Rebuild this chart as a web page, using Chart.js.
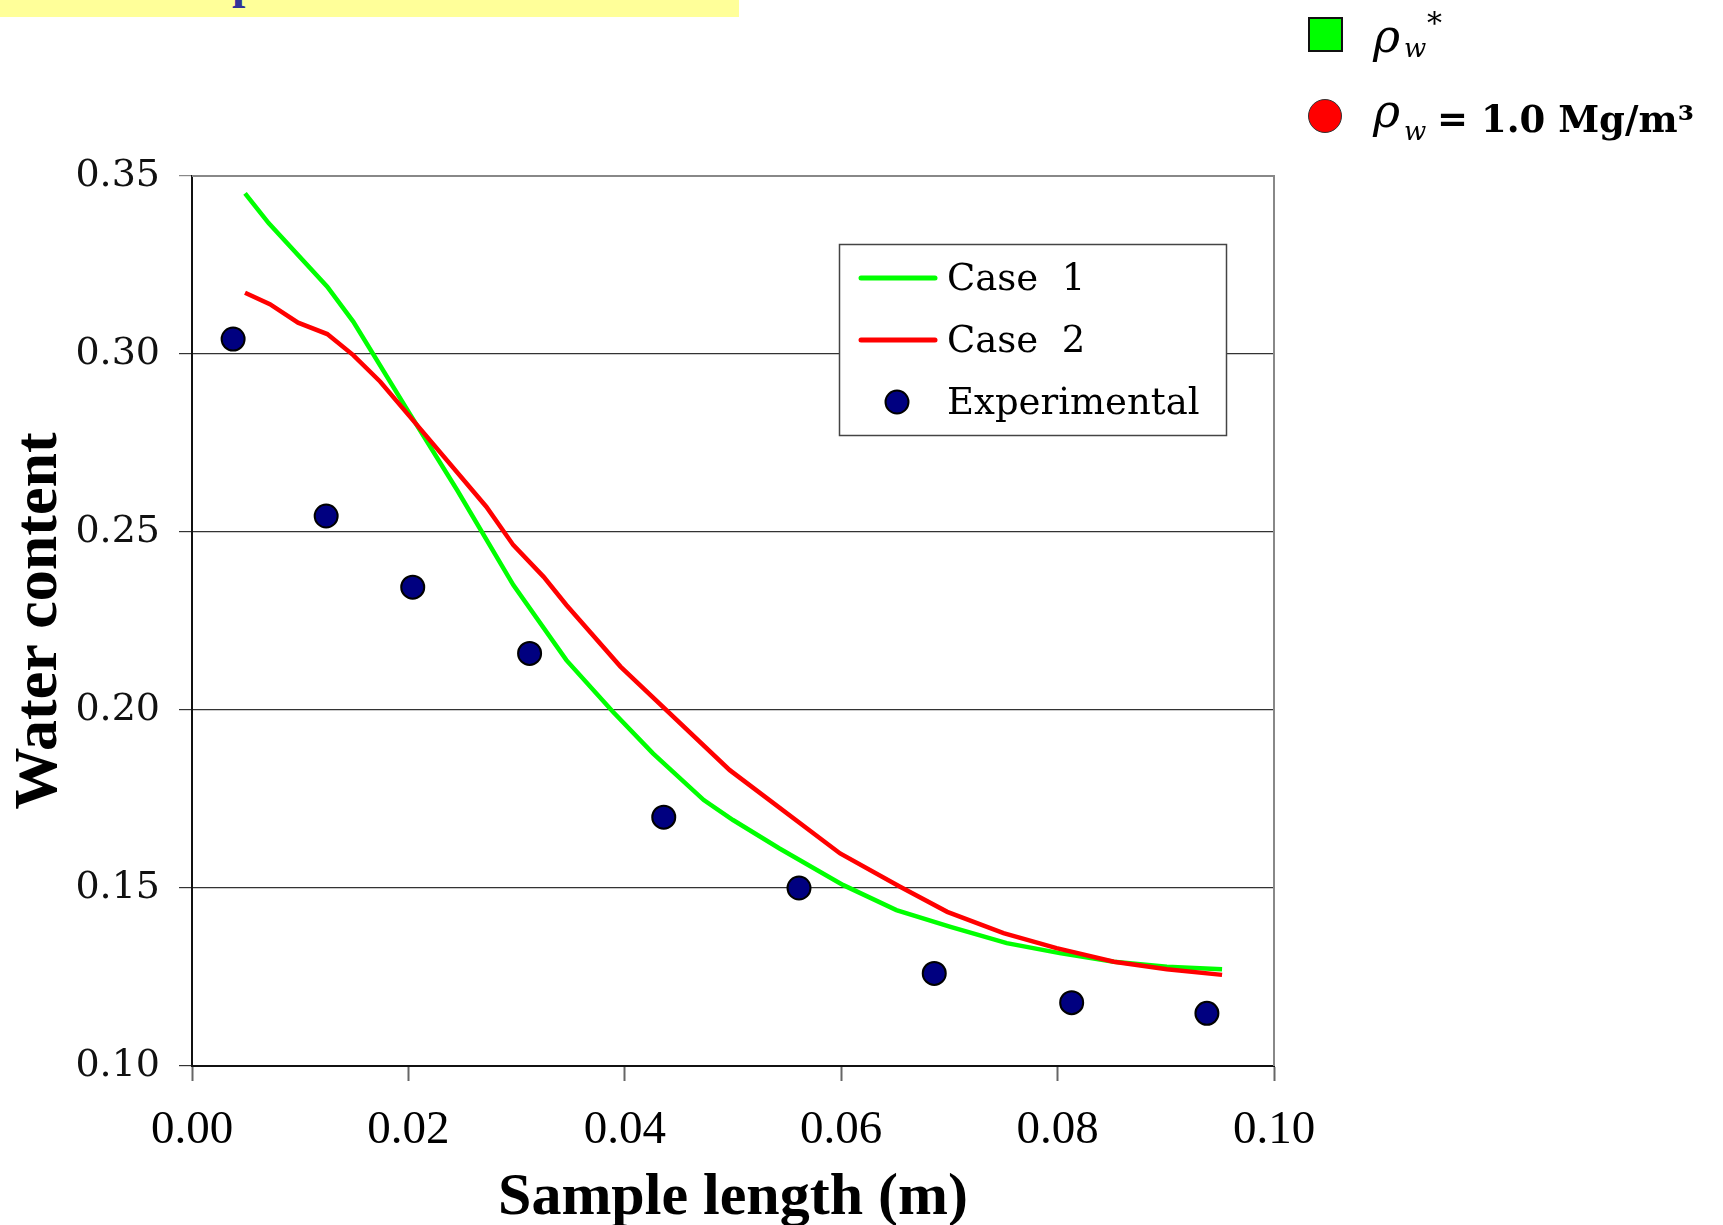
<!DOCTYPE html>
<html>
<head>
<meta charset="utf-8">
<script src="https://cdn.jsdelivr.net/npm/chart.js@4.4.1/dist/chart.umd.min.js"></script>
<style>
  body { margin: 0; background: #fff; }
  #wrap { position: relative; width: 1723px; height: 1225px; overflow: hidden; }
  #chart { position: absolute; left: 0; top: 0; }
  .abs { position: absolute; line-height: 1; white-space: nowrap; color: #000; }
  .banner { left: 0; top: 0; width: 739px; height: 17px; background: #ffff99; }
  .cut { left: 232px; top: -46px; font: bold 48px "Liberation Serif"; color: #333399; }
  .rho { font: italic 46px "DejaVu Serif"; }
  .sub { font: italic 26px "DejaVu Serif"; }
  .sup { font: 30px "DejaVu Serif"; }
  .big { font: bold 37px "DejaVu Serif"; }
</style>
</head>
<body>
<div id="wrap">
  <canvas id="chart" width="1723" height="1225"></canvas>
  <div class="abs banner"></div>
  <div class="abs cut">p</div>

  <div class="abs" style="left:1308px;top:17px;width:31px;height:31px;background:#00ff00;border:2px solid #111;"></div>
  <span class="abs rho" style="left:1373px;top:9px;">ρ</span>
  <span class="abs sub" style="left:1404px;top:33px;">w</span>
  <span class="abs sup" style="left:1427px;top:5px;">*</span>

  <div class="abs" style="left:1308px;top:99px;width:32px;height:32px;border-radius:50%;background:#ff0000;border:1px solid #333;"></div>
  <span class="abs rho" style="left:1373px;top:84px;">ρ</span>
  <span class="abs sub" style="left:1404px;top:116px;">w</span>
  <span class="abs big" style="left:1437px;top:97px;">= 1.0 Mg/m³</span>
</div>

<script>
// Case 1 (green line)
const case1X = [0.0049, 0.0071, 0.0125, 0.0149, 0.0200, 0.0245, 0.0297, 0.0346, 0.0389, 0.0426, 0.0473, 0.0500, 0.0543, 0.0602, 0.0651, 0.0701, 0.0753, 0.0802, 0.0852, 0.0901, 0.0952];
const case1Y = [0.3451, 0.3367, 0.3189, 0.3091, 0.2838, 0.2618, 0.2351, 0.2140, 0.1995, 0.1878, 0.1747, 0.1691, 0.1611, 0.1508, 0.1438, 0.1391, 0.1345, 0.1317, 0.1293, 0.1279, 0.1272];

// Case 2 (red line)
const case2X = [0.0049, 0.0072, 0.0098, 0.0125, 0.0149, 0.0174, 0.0200, 0.0272, 0.0297, 0.0325, 0.0346, 0.0396, 0.0497, 0.0599, 0.0654, 0.0698, 0.0750, 0.0799, 0.0852, 0.0901, 0.0952];
const case2Y = [0.3172, 0.3140, 0.3088, 0.3056, 0.2997, 0.2922, 0.2829, 0.2571, 0.2463, 0.2374, 0.2295, 0.2122, 0.1831, 0.1597, 0.1504, 0.1433, 0.1373, 0.1331, 0.1293, 0.1272, 0.1256];

// Experimental points
const expX = [0.0038, 0.0124, 0.0204, 0.0312, 0.0436, 0.0561, 0.0686, 0.0813, 0.0938];
const expY = [0.3042, 0.2545, 0.2345, 0.2159, 0.1699, 0.1500, 0.1260, 0.1178, 0.1148];

const xTicks = [0.00, 0.02, 0.04, 0.06, 0.08, 0.10];
const yTicks = [0.10, 0.15, 0.20, 0.25, 0.30, 0.35];

const toPts = (xs, ys) => xs.map((x, i) => ({ x: x, y: ys[i] }));

// plot frame: gray top/right border
const frame = {
  id: 'frame',
  beforeDatasetsDraw(chart) {
    const a = chart.chartArea, ctx = chart.ctx;
    ctx.save();
    ctx.strokeStyle = '#888';
    ctx.lineWidth = 2;
    ctx.beginPath();
    ctx.moveTo(a.left, a.top);
    ctx.lineTo(a.right, a.top);
    ctx.lineTo(a.right, a.bottom);
    ctx.stroke();
    ctx.restore();
  }
};

// legend box inside the plot
const boxLegend = {
  id: 'boxLegend',
  afterDraw(chart) {
    const ctx = chart.ctx;
    const bx = 839, by = 244, bw = 387, bh = 191;
    ctx.save();
    ctx.fillStyle = '#fff';
    ctx.fillRect(bx, by, bw, bh);
    ctx.strokeStyle = '#444';
    ctx.lineWidth = 1.5;
    ctx.strokeRect(bx + 0.5, by + 0.5, bw, bh);
    ctx.font = '37px "DejaVu Serif"';
    ctx.textBaseline = 'middle';
    ctx.fillStyle = '#000';
    chart.data.datasets.forEach((ds, i) => {
      const y = 278 + i * 62;
      if (ds.showLine) {
        ctx.strokeStyle = ds.borderColor;
        ctx.lineWidth = 5;
        ctx.lineCap = 'round';
        ctx.beginPath();
        ctx.moveTo(861, y);
        ctx.lineTo(935, y);
        ctx.stroke();
      } else {
        ctx.beginPath();
        ctx.arc(897, y, 11.5, 0, Math.PI * 2);
        ctx.fillStyle = ds.pointBackgroundColor;
        ctx.fill();
        ctx.lineWidth = 2;
        ctx.strokeStyle = ds.pointBorderColor;
        ctx.stroke();
        ctx.fillStyle = '#000';
      }
      ctx.fillText(ds.label, 947, y + 2);
    });
    ctx.restore();
  }
};

new Chart(document.getElementById('chart'), {
  type: 'scatter',
  data: {
    datasets: [
      {
        label: 'Case  1',
        data: toPts(case1X, case1Y),
        showLine: true,
        borderColor: '#00ff00',
        borderWidth: 4.5,
        pointRadius: 0,
        tension: 0,
        order: 3
      },
      {
        label: 'Case  2',
        data: toPts(case2X, case2Y),
        showLine: true,
        borderColor: '#ff0000',
        borderWidth: 4.5,
        pointRadius: 0,
        tension: 0,
        order: 2
      },
      {
        label: 'Experimental',
        data: toPts(expX, expY),
        showLine: false,
        pointRadius: 11.5,
        pointBackgroundColor: '#000080',
        pointBorderColor: '#000',
        pointBorderWidth: 2,
        order: 1
      }
    ]
  },
  options: {
    responsive: false,
    animation: false,
    devicePixelRatio: 1,
    layout: { padding: { top: 176, right: 449, bottom: 0, left: 0 } },
    plugins: { legend: { display: false }, tooltip: { enabled: false } },
    scales: {
      x: {
        type: 'linear',
        min: 0,
        max: 0.1,
        afterBuildTicks: s => { s.ticks = xTicks.map(v => ({ value: v })); },
        afterFit: s => { s.height = 159; },
        ticks: {
          callback: v => v.toFixed(2),
          font: { family: 'Liberation Serif', size: 47 },
          color: '#000',
          padding: 21,
          maxRotation: 0
        },
        grid: { drawOnChartArea: false, tickLength: 15, tickColor: '#666', tickWidth: 2 },
        border: { color: '#111', width: 2 },
        title: {
          display: true,
          text: 'Sample length (m)',
          font: { family: 'Liberation Serif', size: 60, weight: 'bold', lineHeight: 0.9 },
          color: '#000',
          padding: { top: 0, bottom: 0 }
        }
      },
      y: {
        type: 'linear',
        min: 0.1,
        max: 0.35,
        afterBuildTicks: s => { s.ticks = yTicks.map(v => ({ value: v })); },
        afterFit: s => { s.width = 192; },
        ticks: {
          callback: v => v.toFixed(2),
          font: { family: 'DejaVu Serif', size: 38 },
          color: '#111',
          padding: 19
        },
        grid: {
          color: c => (c.tick && Math.abs(c.tick.value - 0.35) < 1e-9) ? '#888' : '#333',
          lineWidth: 1.2,
          tickLength: 13
        },
        border: { color: '#111', width: 2 },
        title: {
          display: true,
          text: 'Water content',
          font: { family: 'Liberation Serif', size: 62, weight: 'bold', lineHeight: 0.9 },
          color: '#000',
          padding: { top: 12, bottom: 0 }
        }
      }
    }
  },
  plugins: [frame, boxLegend]
});
</script>
</body>
</html>
